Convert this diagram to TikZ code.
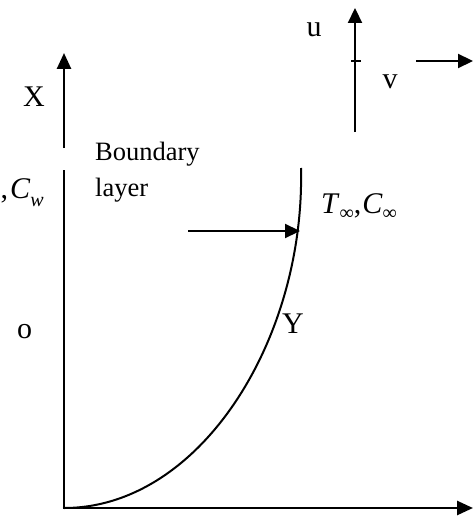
\documentclass[tikz,border=0pt]{standalone}
\usepackage{fontspec}
\setmainfont{Liberation Serif}
\usetikzlibrary{arrows.meta}
\newcommand\lowsub[2]{\raisebox{-#1em}{\fontsize{20}{20}\selectfont #2}}
\begin{document}
\begin{tikzpicture}[x=1pt,y=-1pt,
  lbl/.style={font=\fontsize{30}{34}\selectfont, inner sep=0pt},
  blbl/.style={font=\fontsize{26.5}{36}\selectfont, inner sep=0pt},
  wbox/.style={fill=white, draw=none},
  axis/.style={line width=2.6pt, -{Triangle[length=16pt,width=14pt]}},
  plain/.style={line width=2.6pt},
  vel/.style={line width=2.2pt, -{Triangle[length=15pt,width=14pt]}},
  curve/.style={line width=2pt}]
\useasboundingbox (0,0) rectangle (473,516);
\clip (0,0) rectangle (473,516);
\fill[white] (0,0) rectangle (473,516);
% white label boxes
\fill[wbox] (0,65) rectangle (53,126);
\fill[wbox] (0,149) rectangle (53,220);
\fill[wbox] (76,128) rectangle (241,220);
\fill[wbox] (0,298) rectangle (52,362);
\fill[wbox] (306,170) rectangle (473,236);
\fill[wbox] (255,296) rectangle (310,354);
% coordinates
\coordinate (O) at (64,508);
\coordinate (Xlow) at (64,170);
\coordinate (Xbase) at (64,148);
\coordinate (Xtip) at (64,53);
\coordinate (Yend) at (473,508);
\coordinate (Ctop) at (301,168);
\coordinate (Hstart) at (188,231);
\coordinate (Hend) at (300,231);
\coordinate (Ubase) at (355,132);
\coordinate (Utip) at (355,8);
\coordinate (TickL) at (351,61);
\coordinate (TickR) at (361,61);
\coordinate (Vstart) at (416,61);
\coordinate (Vtip) at (473,61);
% axes
\draw[plain] (O) -- (Xlow);
\draw[axis] (Xbase) -- (Xtip);
\draw[axis] ([xshift=-1.3pt]O) -- (Yend);
% boundary layer curve
\draw[curve] (O) .. controls (200,508) and (305,340) .. (Ctop);
% free-stream arrow
\draw[vel] (Hstart) -- (Hend);
% velocity components
\draw[vel] (Ubase) -- (Utip);
\draw[line width=1.6pt] (TickL) -- (TickR);
\draw[vel] (Vstart) -- (Vtip);
% labels
\node[lbl] (Xl) at (34,97) {X};
\node[lbl, anchor=base west] (Cw) at (0.5,198) {,\kern2pt\textit{C}\lowsub{0.28}{\textit{w}}};
\node[blbl, anchor=base west, align=left] (BL) at (95,196) {Boundary\\layer};
\node[lbl, anchor=base west] (Tinf) at (321,213) {\textit{T}\lowsub{0.2}{∞},\kern1pt\textit{C}\lowsub{0.2}{∞}};
\node[lbl] (ol) at (24.5,331.5) {o};
\node[lbl] (Yl) at (293,324) {Y};
\node[lbl] (ul) at (314,30) {u};
\node[lbl] (vl) at (390,82) {v};
\end{tikzpicture}
\end{document}
